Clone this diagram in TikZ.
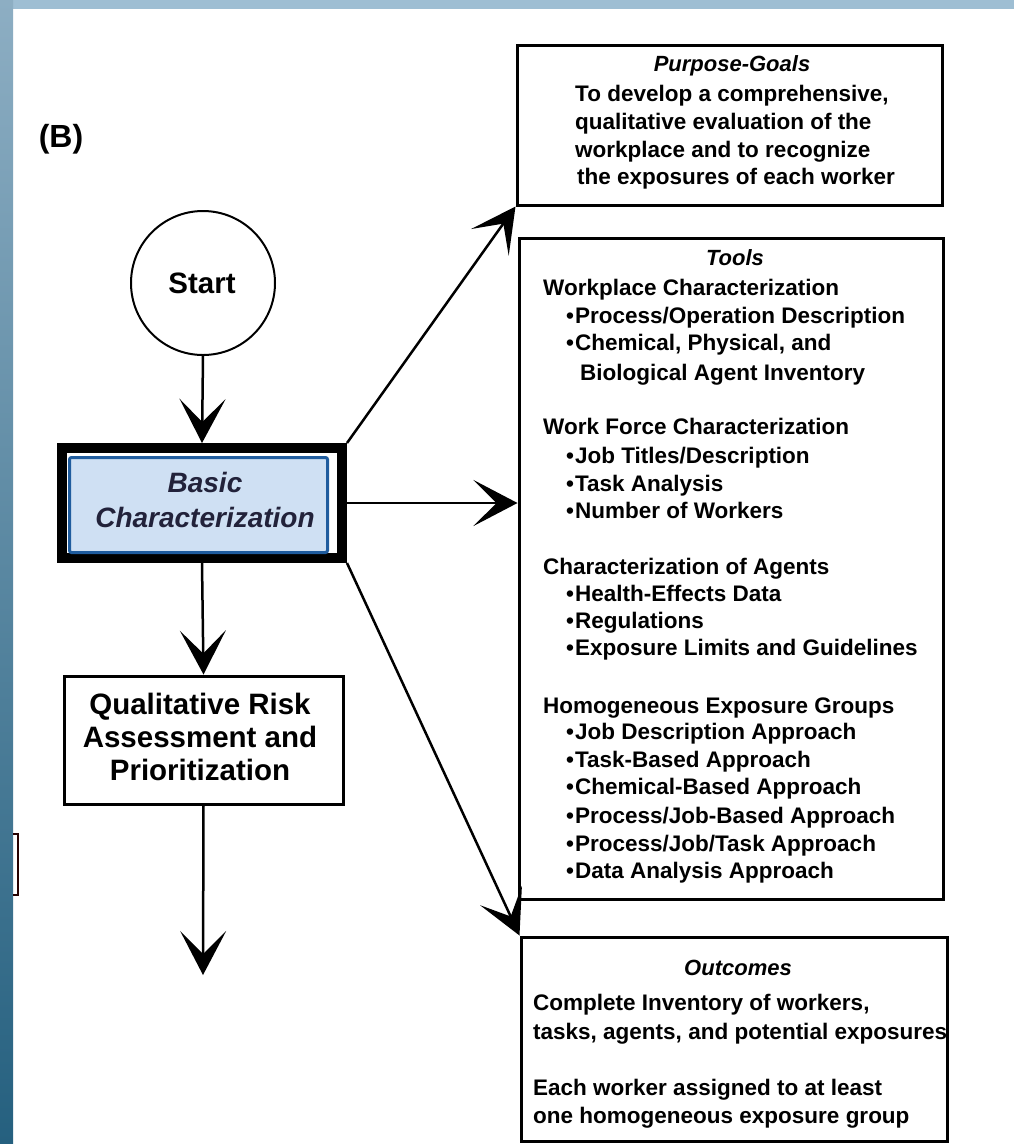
\documentclass[tikz,border=0pt]{standalone}
\usepackage{fontspec}
\setmainfont{Liberation Sans}
\usetikzlibrary{arrows.meta}
\definecolor{bandtop}{HTML}{9EBED3}
\definecolor{bandA}{HTML}{8DAEC3}
\definecolor{bandB}{HTML}{25607F}
\definecolor{bluefill}{HTML}{CFE0F3}
\definecolor{blueline}{HTML}{1F5C9E}
\definecolor{navytext}{HTML}{22223A}
\tikzset{
  bx/.style={draw, line width=3pt, fill=white, inner sep=0pt},
  txt/.style={anchor=base west, inner sep=0pt, font=\bfseries\fontsize{22.5}{27}\selectfont},
  hd/.style={anchor=base, inner sep=0pt, font=\bfseries\itshape\fontsize{22}{26}\selectfont},
  big/.style={anchor=base, inner sep=0pt, font=\bfseries\fontsize{29.5}{33}\selectfont},
  conn/.style={line width=2.5pt, -{Stealth[length=44pt,width=46pt,inset=23pt]}},
}
\begin{document}
\begin{tikzpicture}[x=1pt,y=-1pt]
\useasboundingbox (0,0) rectangle (1014,1144);
\fill[white] (0,0) rectangle (1014,1144);
% border bands
\fill[bandtop] (0,0) rectangle (1014,9);
\shade[top color=bandA, bottom color=bandB] (0,0) rectangle (13,1144);
\draw[line width=2pt, color=black!85!red] (13,834) -- (18,834) -- (18,895) -- (13,895);

% label
\node[anchor=base, inner sep=0pt, font=\bfseries\fontsize{32}{36}\selectfont] (lblB) at (61,147) {(B)};

% start
\node[draw, circle, line width=2pt, minimum size=144pt, inner sep=0pt] (start) at (203,283) {};
\node[big] (starttxt) at (202,293) {Start};

% basic characterization
\node[draw, line width=10pt, minimum width=280pt, minimum height=110pt, inner sep=0pt] (basic) at (202,503) {};
\node[draw=blueline, fill=bluefill, line width=3pt, rounded corners=2pt, minimum width=258pt, minimum height=95pt, inner sep=0pt] (basicin) at (198.5,505) {};
\node[anchor=base, inner sep=0pt, text=navytext, font=\bfseries\itshape\fontsize{28}{33}\selectfont] (bt1) at (205,492) {Basic};
\node[anchor=base, inner sep=0pt, text=navytext, font=\bfseries\itshape\fontsize{28}{33}\selectfont] (bt2) at (205,527) {Characterization};

% qualitative
\node[bx, minimum width=279pt, minimum height=128pt] (qual) at (203.5,740) {};
\node[big] (q1) at (200,714) {Qualitative Risk};
\node[big] (q2) at (200,747) {Assessment and};
\node[big] (q3) at (200,780) {Prioritization};
\coordinate (qend) at (203,975);

% purpose box
\node[bx, minimum width=425pt, minimum height=160pt] (purp) at (729.5,125) {};
\node[hd] (ph) at (732,71) {Purpose-Goals};
\node[txt] (p1) at (575,101) {To develop a comprehensive,};
\node[txt] (p2) at (575,129) {qualitative evaluation of the};
\node[txt] (p3) at (575,157) {workplace and to recognize};
\node[txt] (p4) at (577,184) {the exposures of each worker};

% tools box
\node[bx, minimum width=424pt, minimum height=661pt] (tools) at (731,568.5) {};
\node[hd] (th) at (735,265) {Tools};
\node[txt] (t1) at (543,295) {Workplace Characterization};
\node[txt] (t2) at (566,323) {•\kern1pt Process/Operation Description};
\node[txt] (t3) at (566,350) {•\kern1pt Chemical, Physical, and};
\node[txt] (t4) at (580,380) {Biological Agent Inventory};
\node[txt] (t5) at (543,434) {Work Force Characterization};
\node[txt] (t6) at (566,463) {•\kern1pt Job Titles/Description};
\node[txt] (t7) at (566,491) {•\kern1pt Task Analysis};
\node[txt] (t8) at (566,518) {•\kern1pt Number of Workers};
\node[txt] (t9) at (543,574) {Characterization of Agents};
\node[txt] (t10) at (566,601) {•\kern1pt Health-Effects Data};
\node[txt] (t11) at (566,628) {•\kern1pt Regulations};
\node[txt] (t12) at (566,655) {•\kern1pt Exposure Limits and Guidelines};
\node[txt] (t13) at (543,713) {Homogeneous Exposure Groups};
\node[txt] (t14) at (566,739) {•\kern1pt Job Description Approach};
\node[txt] (t15) at (566,767) {•\kern1pt Task-Based Approach};
\node[txt] (t16) at (566,794) {•\kern1pt Chemical-Based Approach};
\node[txt] (t17) at (566,823) {•\kern1pt Process/Job-Based Approach};
\node[txt] (t18) at (566,851) {•\kern1pt Process/Job/Task Approach};
\node[txt] (t19) at (566,878) {•\kern1pt Data Analysis Approach};

% outcomes box
\node[bx, minimum width=426pt, minimum height=204pt] (outc) at (734,1039) {};
\node[hd] (oh) at (738,975) {Outcomes};
\node[txt] (o1) at (533,1010) {Complete Inventory of workers,};
\node[txt] (o2) at (533,1039) {tasks, agents, and potential exposures};
\node[txt] (o3) at (533,1095) {Each worker assigned to at least};
\node[txt] (o4) at (533,1123) {one homogeneous exposure group};

% connectors
\draw[conn] (start.south) -- (basic.north);
\draw[conn] (basic.south) -- (qual.north);
\draw[conn] (qual.south) -- (qend);
\draw[conn] (basic.north east) -- (purp.south west);
\draw[conn] (basic.east) -- (basic.east -| tools.west);
\draw[conn] (basic.south east) -- (outc.north west);
\end{tikzpicture}
\end{document}
